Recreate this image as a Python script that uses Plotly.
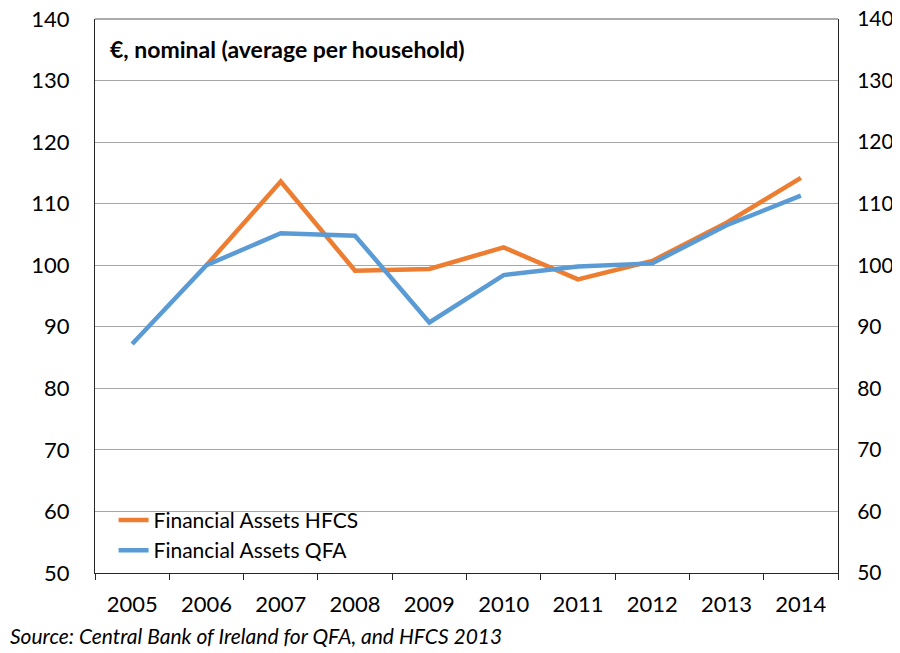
import plotly.graph_objects as go

years = ["2005", "2006", "2007", "2008", "2009", "2010", "2011", "2012", "2013", "2014"]
hfcs = [None, 100.0, 113.6, 99.1, 99.4, 102.9, 97.7, 100.7, 106.9, 114.2]
qfa = [87.2, 100.0, 105.2, 104.8, 90.7, 98.4, 99.8, 100.3, 106.5, 111.3]
y_ticks = [50, 60, 70, 80, 90, 100, 110, 120, 130, 140]

FONT = "Lato, 'Open Sans', sans-serif"

fig = go.Figure()
fig.add_trace(go.Scatter(
    x=years, y=hfcs, mode="lines", name="Financial Assets HFCS",
    line=dict(color="#ED7D31", width=4.5), connectgaps=False,
))
fig.add_trace(go.Scatter(
    x=years, y=qfa, mode="lines", name="Financial Assets QFA",
    line=dict(color="#5B9BD5", width=4.5),
))
# invisible trace so the right-hand axis is drawn
fig.add_trace(go.Scatter(
    x=years, y=qfa, yaxis="y2", mode="lines", showlegend=False,
    line=dict(width=0), hoverinfo="skip", opacity=0,
))

fig.add_annotation(
    text="<b>€, nominal (average per household)</b>",
    xref="paper", yref="paper", x=0.0175, y=0.946,
    xanchor="left", yanchor="middle", showarrow=False,
    font=dict(size=23, color="#000000", family=FONT),
)
fig.add_annotation(
    text="<i>Source: Central Bank of Ireland for QFA, and HFCS 2013</i>",
    xref="paper", yref="paper", x=-0.117, y=-0.1137,
    xanchor="left", yanchor="middle", showarrow=False,
    font=dict(size=21, color="#000000", family=FONT),
)

axis_common = dict(
    range=[50, 140], tickvals=y_ticks, showline=True, linecolor="#262626",
    linewidth=1, ticks="", zeroline=False, automargin=False,
    ticklabeloverflow="allow",
)

# page body adds an 8px offset: size shrunk by 8 so it fits the 900x653 window
fig.update_layout(
    width=892, height=645,
    margin=dict(l=87, r=62, t=11, b=80),
    paper_bgcolor="#ffffff", plot_bgcolor="#ffffff",
    font=dict(family=FONT, color="#000000"),
    xaxis=dict(
        type="category", range=[-0.5, 9.5], showline=True, linecolor="#262626",
        linewidth=1, ticks="outside", tickson="boundaries", ticklen=6,
        tickcolor="#262626", showgrid=False, automargin=False,
        tickfont=dict(size=22, color="#000000", family=FONT),
        ticklabelstandoff=12,
    ),
    yaxis=dict(
        **axis_common, side="left", showgrid=True,
        gridcolor="#A6A6A6", gridwidth=1, ticklabelstandoff=20,
        tickfont=dict(size=22, color="#000000", family=FONT),
    ),
    yaxis2=dict(
        **axis_common, side="right", overlaying="y", showgrid=False,
        ticklabelstandoff=14, tickfont=dict(size=21, color="#000000", family=FONT),
    ),
    legend=dict(
        x=0.025, y=0.004, xanchor="left", yanchor="bottom",
        bgcolor="rgba(0,0,0,0)", font=dict(size=21, color="#000000", family=FONT),
        itemwidth=30, tracegroupgap=0,
    ),
    showlegend=True,
)
# top border
fig.add_shape(type="line", xref="paper", yref="paper", x0=0, x1=1, y0=1, y1=1,
              line=dict(color="#595959", width=1))

fig.write_html("out.html")
